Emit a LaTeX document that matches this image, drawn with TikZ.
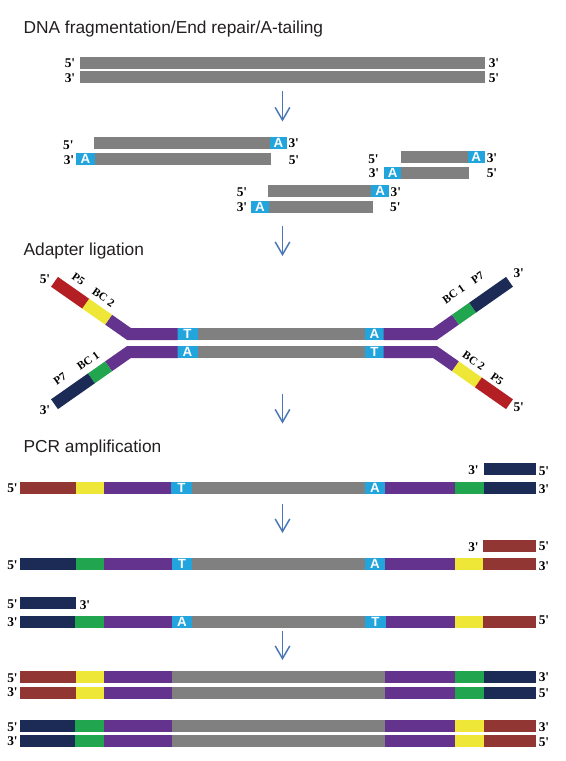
\documentclass[tikz,border=0pt]{standalone}
\usepackage{fontspec}
\setmainfont{Liberation Sans}
\newfontfamily\labfont[Ligatures=TeXOff]{Liberation Serif}
\usetikzlibrary{arrows.meta,calc}

\definecolor{dgray}{HTML}{808080}
\definecolor{tcyan}{HTML}{22A4DC}
\definecolor{ared}{HTML}{B41F24}
\definecolor{pred}{HTML}{923634}
\definecolor{ayel}{HTML}{EEE737}
\definecolor{apur}{HTML}{64338E}
\definecolor{agrn}{HTML}{22A54F}
\definecolor{anavy}{HTML}{1B2B55}
\definecolor{arrblue}{HTML}{4877B8}
\definecolor{ttext}{HTML}{231F20}

\newcommand\dnabar[2]{\foreach \xa/\xb/\cc in {#2}{\fill[\cc] (\xa,#1) rectangle (\xb,#1+12);}}

\tikzset{
 titletext/.style={anchor=base west, inner sep=0pt, font=\fontsize{13}{15}\selectfont, text=ttext},
 endlab/.style={inner sep=0pt, font=\labfont\bfseries\fontsize{10}{12}\selectfont, text=black},
 armlab/.style={inner sep=0pt, font=\labfont\bfseries\fontsize{8.5}{10}\selectfont, text=black},
 baselett/.style={inner sep=0pt, font=\bfseries\fontsize{10}{11}\selectfont, text=white},
 steparrow/.style={draw=arrblue, line width=1.1pt, -{Straight Barb[length=9.5pt,width=11pt,line width=1.1pt]}},
 armline/.style={line width=9pt, line cap=butt, line join=miter},
}

\begin{document}
\begin{tikzpicture}[x=0.75pt,y=-0.75pt]
\useasboundingbox (0,0) rectangle (565,761);
\fill[white] (0,0) rectangle (565,761);

% ---------- titles
\node[titletext] (t1) at (23.3,33) {DNA fragmentation/End repair/A-tailing};
\node[titletext] (t2) at (23.3,255) {Adapter ligation};
\node[titletext] (t3) at (23.3,452) {PCR amplification};

% ---------- step 1: genomic DNA
\dnabar{57}{80/485.3/dgray}
\dnabar{71}{80/485.3/dgray}
\node[endlab] (g1l) at (70,63.3) {5'};
\node[endlab] (g2l) at (70,77.7) {3'};
\node[endlab] (g1r) at (494,63.3) {3'};
\node[endlab] (g2r) at (494,77.7) {5'};

% ---------- arrows
\coordinate (a1s) at (282.5,91);   \coordinate (a1e) at (282.5,121.5);
\coordinate (a2s) at (282.5,226);  \coordinate (a2e) at (282.5,256);
\coordinate (a3s) at (282.5,394);  \coordinate (a3e) at (282.5,423.5);
\coordinate (a4s) at (282.5,503.5);\coordinate (a4e) at (282.5,533);
\coordinate (a5s) at (282.5,631);  \coordinate (a5e) at (282.5,660);
\draw[steparrow] (a1s) -- (a1e);
\draw[steparrow] (a2s) -- (a2e);
\draw[steparrow] (a3s) -- (a3e);
\draw[steparrow] (a4s) -- (a4e);
\draw[steparrow] (a5s) -- (a5e);

% ---------- fragments with A tails
\dnabar{137}{94/270/dgray, 270/287/tcyan}
\dnabar{153}{76/95/tcyan, 95/271/dgray}
\node[baselett] (f1a) at (278.5,143) {A};
\node[baselett] (f1b) at (85.5,159) {A};
\node[endlab] (f1l1) at (68.3,145) {5'};
\node[endlab] (f1l2) at (69,160) {3'};
\node[endlab] (f1r1) at (293.7,143) {3'};
\node[endlab] (f1r2) at (294,160.5) {5'};

\dnabar{151}{401/467.7/dgray, 467.7/485/tcyan}
\dnabar{167}{384/401.3/tcyan, 401.3/469/dgray}
\node[baselett] (f2a) at (476.3,157) {A};
\node[baselett] (f2b) at (392.7,173) {A};
\node[endlab] (f2l1) at (373.5,159) {5'};
\node[endlab] (f2l2) at (374,173.3) {3'};
\node[endlab] (f2r1) at (492,158.3) {3'};
\node[endlab] (f2r2) at (492,173.3) {5'};

\dnabar{185}{268/371.3/dgray, 371.3/389/tcyan}
\dnabar{201}{251/269/tcyan, 269/373/dgray}
\node[baselett] (f3a) at (380.2,191) {A};
\node[baselett] (f3b) at (260,207) {A};
\node[endlab] (f3l1) at (242,192.5) {5'};
\node[endlab] (f3l2) at (242,207.5) {3'};
\node[endlab] (f3r1) at (395.8,191.7) {3'};
\node[endlab] (f3r2) at (395.3,207) {5'};

% ---------- adapter ligation
\coordinate (JTL) at (129,334);   \coordinate (ETL) at (54.5,281.8);
\coordinate (JBL) at (129,352);   \coordinate (EBL) at (54.5,404.2);
\coordinate (JTR) at (435,334);   \coordinate (ETR) at (509.5,281.8);
\coordinate (JBR) at (435,352);   \coordinate (EBR) at (509.5,404.2);

\dnabar{328}{177/198/tcyan, 198/365/dgray, 365/384/tcyan}
\dnabar{346}{177/198/tcyan, 198/365/dgray, 365/384/tcyan}
\node[baselett] (lt1) at (187.5,334) {T};
\node[baselett] (lt2) at (374.5,334) {A};
\node[baselett] (lb1) at (187.5,352) {A};
\node[baselett] (lb2) at (374.5,352) {T};

% purple linkers
\draw[armline,apur] (177.5,334) -- (JTL) -- ($(JTL)!0.2747!(ETL)$);
\draw[armline,apur] (177.5,352) -- (JBL) -- ($(JBL)!0.2747!(EBL)$);
\draw[armline,apur] (383.5,334) -- (JTR) -- ($(JTR)!0.2747!(ETR)$);
\draw[armline,apur] (383.5,352) -- (JBR) -- ($(JBR)!0.2747!(EBR)$);
% P5 arms (top-left, bottom-right)
\draw[armline,ayel] ($(JTL)!0.2747!(ETL)$) -- ($(JTL)!0.5824!(ETL)$);
\draw[armline,ared] ($(JTL)!0.5824!(ETL)$) -- (ETL);
\draw[armline,ayel] ($(JBR)!0.2747!(EBR)$) -- ($(JBR)!0.5824!(EBR)$);
\draw[armline,ared] ($(JBR)!0.5824!(EBR)$) -- (EBR);
% P7 arms (bottom-left, top-right)
\draw[armline,agrn] ($(JBL)!0.2747!(EBL)$) -- ($(JBL)!0.5055!(EBL)$);
\draw[armline,anavy] ($(JBL)!0.5055!(EBL)$) -- (EBL);
\draw[armline,agrn] ($(JTR)!0.2747!(ETR)$) -- ($(JTR)!0.5055!(ETR)$);
\draw[armline,anavy] ($(JTR)!0.5055!(ETR)$) -- (ETR);

\node[armlab,rotate=-35] (p5a) at (78.4,279.2) {P5};
\node[armlab,rotate=-35] (bc2a) at (103.4,297.5) {BC 2};
\node[armlab,rotate=35] (p7a) at (60,379.2) {P7};
\node[armlab,rotate=35] (bc1a) at (88.3,360.8) {BC 1};
\node[armlab,rotate=35] (bc1b) at (453.6,294.2) {BC 1};
\node[armlab,rotate=35] (p7b) at (477.6,277.5) {P7};
\node[armlab,rotate=-35] (bc2b) at (473.7,360.8) {BC 2};
\node[armlab,rotate=-35] (p5b) at (497,379.2) {P5};
\node[endlab] (atl) at (45,279.5) {5'};
\node[endlab] (abl) at (45,410) {3'};
\node[endlab] (atr) at (518.7,273.3) {3'};
\node[endlab] (abr) at (518.7,406.7) {5'};

% ---------- PCR amplification
\dnabar{463.3}{484/536/anavy}
\node[endlab] (pr1l) at (473.5,470.5) {3'};
\node[endlab] (pr1r) at (544,471.5) {5'};
\dnabar{482}{20/76/pred, 76/104/ayel, 104/171/apur, 171/192/tcyan, 192/365/dgray, 365/385/tcyan, 385/455/apur, 455/484/agrn, 484/536/anavy}
\node[baselett] (r1t) at (181.5,488) {T};
\node[baselett] (r1a) at (375,488) {A};
\node[endlab] (r1l) at (12.5,488.3) {5'};
\node[endlab] (r1r) at (544,489.5) {3'};

\dnabar{540}{483/536/pred}
\node[endlab] (pr2l) at (473.5,547.5) {3'};
\node[endlab] (pr2r) at (544,546) {5'};
\dnabar{558}{20/76/anavy, 76/104/agrn, 104/172/apur, 172/192/tcyan, 192/365/dgray, 365/385/tcyan, 385/455/apur, 455/483/ayel, 483/536/pred}
\node[baselett] (r2t) at (182,564) {T};
\node[baselett] (r2a) at (375,564) {A};
\node[endlab] (r2l) at (12.5,565) {5'};
\node[endlab] (r2r) at (544,566) {3'};

\dnabar{597.3}{20/76/anavy}
\node[endlab] (pr3l) at (12.5,604) {5'};
\node[endlab] (pr3r) at (85,605) {3'};
\dnabar{616}{20/75/anavy, 75/104/agrn, 104/172/apur, 172/192/tcyan, 192/365/dgray, 365/386/tcyan, 386/455/apur, 455/483/ayel, 483/536/pred}
\node[baselett] (r3a) at (182,622) {A};
\node[baselett] (r3t) at (375.5,622) {T};
\node[endlab] (r3l) at (12.5,621.7) {3'};
\node[endlab] (r3r) at (544,620) {5'};

% ---------- final products
\dnabar{671}{20/76/pred, 76/104/ayel, 104/172/apur, 172/385/dgray, 385/455/apur, 455/484/agrn, 484/536/anavy}
\dnabar{687}{20/76/pred, 76/104/ayel, 104/172/apur, 172/385/dgray, 385/455/apur, 455/484/agrn, 484/536/anavy}
\node[endlab] (fal) at (12.5,677.7) {5'};
\node[endlab] (far) at (544,676.7) {3'};
\node[endlab] (fbl) at (12.5,692.3) {3'};
\node[endlab] (fbr) at (544,693) {5'};

\dnabar{720}{20/75/anavy, 75/104/agrn, 104/172/apur, 172/385/dgray, 385/455/apur, 455/484/ayel, 484/536/pred}
\dnabar{735}{20/75/anavy, 75/104/agrn, 104/172/apur, 172/385/dgray, 385/455/apur, 455/484/ayel, 484/536/pred}
\node[endlab] (fcl) at (12.5,726.7) {5'};
\node[endlab] (fcr) at (544,726.7) {3'};
\node[endlab] (fdl) at (12.5,741) {3'};
\node[endlab] (fdr) at (544,741.7) {5'};
\end{tikzpicture}
\end{document}
